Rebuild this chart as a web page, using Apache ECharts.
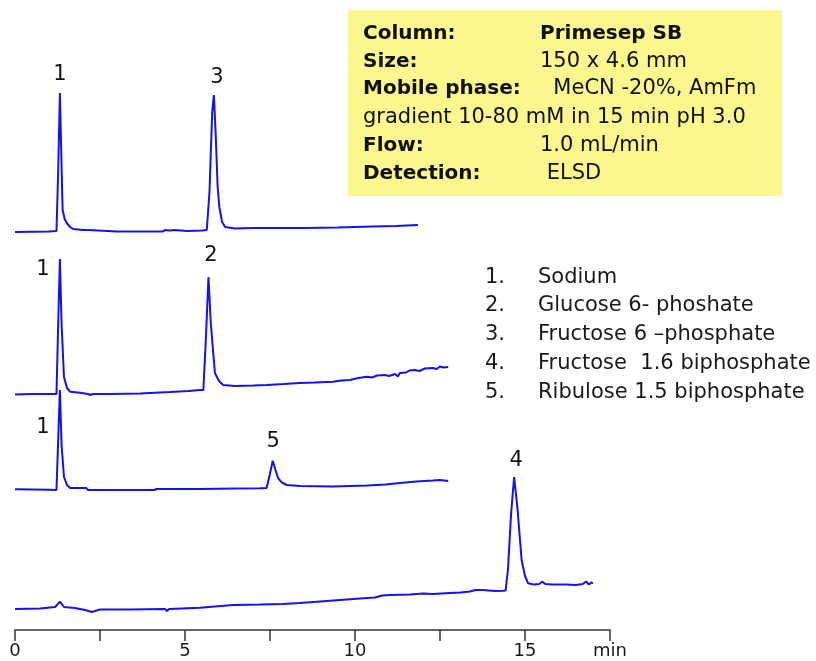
<!DOCTYPE html>
<html>
<head>
<meta charset="utf-8">
<script src="https://cdn.jsdelivr.net/npm/echarts/dist/echarts.min.js"></script>
<style>
html,body{margin:0;padding:0;background:#fff;}
#chart{width:816px;height:661px;}
</style>
</head>
<body>
<div id="chart"></div>
<script>
// ---- data (time in min, detector signal in arbitrary units above each trace's baseline) ----
const trace1 = [[0,0],[0.5,0.3],[1.0,0.5],[1.22,1],[1.27,60],[1.32,139],[1.36,80],[1.40,22],[1.46,13],[1.52,9],[1.62,5],[1.71,3],[2.0,2],[2.15,2],[2.18,0.5],[3.0,0.5],[3.65,0.5],[3.68,1.5],[3.72,0.5],[4.35,0.5],[4.41,2],[4.45,0.5],[4.55,1.5],[4.6,0.5],[4.7,2],[4.75,0.5],[5.06,1],[5.5,1.5],[5.64,2],[5.72,40],[5.80,120],[5.85,137],[5.90,100],[5.96,45],[6.01,25],[6.09,10],[6.18,5],[6.47,3.5],[7.0,4],[8.0,4],[8.35,4],[8.4,5.5],[8.45,4],[9.5,4.5],[10.5,5.5],[11.2,6],[11.85,7]];
const trace2 = [[0,-0.5],[0.5,0],[1.0,0],[1.22,0],[1.27,70],[1.32,135],[1.37,70],[1.44,17],[1.53,6],[1.62,2.3],[1.91,1.3],[2.15,0],[2.21,-1],[2.3,0],[2.79,0],[3.68,0.5],[4.56,2],[5.1,3],[5.44,4],[5.54,4],[5.62,60],[5.69,117],[5.76,70],[5.88,21],[6.0,13],[6.12,9],[6.47,8],[7.0,8.5],[7.41,9],[7.9,10],[8.38,11],[8.8,11.5],[9.35,12.3],[9.6,13.5],[9.85,14],[10.1,16],[10.35,17.3],[10.5,16.5],[10.65,18.5],[10.88,19],[11.0,18],[11.18,20],[11.26,17.5],[11.32,21],[11.5,21.5],[11.6,23.5],[11.76,24],[11.9,23],[12.05,25.5],[12.29,26],[12.4,25],[12.5,27.5],[12.6,26.5],[12.74,27]];
const trace3 = [[0,0.7],[0.5,0.5],[1.0,0.3],[1.22,0],[1.27,50],[1.32,100],[1.37,45],[1.44,13],[1.53,5],[1.62,2],[2.09,2],[2.15,0],[4.1,0],[4.13,1.5],[4.16,1],[5.44,1],[6.5,1.5],[7.21,1.7],[7.40,2],[7.49,15],[7.58,29.3],[7.66,20],[7.74,11.7],[7.85,7.5],[7.99,5],[8.38,4],[9.35,3.5],[10.35,4.5],[10.9,5.5],[11.32,7],[11.8,8.5],[12.29,9.5],[12.5,10],[12.74,9]];
const trace4 = [[0,0],[0.74,0.5],[1.18,2],[1.32,7.3],[1.44,2],[1.76,1],[2.06,-1],[2.26,-3],[2.5,-0.5],[3.38,-0.5],[4.41,0],[4.47,-2],[4.53,0],[5.44,1.3],[6.41,4],[7.21,4.5],[7.88,5],[8.38,6],[8.88,7.3],[9.56,9],[10.35,11],[10.59,11.5],[10.8,13.5],[11.03,14],[11.62,14.5],[12.0,15.5],[12.29,15],[12.79,16],[13.1,16.5],[13.38,17.5],[13.55,19],[13.76,19],[14.12,18],[14.35,18.3],[14.43,18.5],[14.50,40],[14.59,95],[14.68,132],[14.78,100],[14.90,49],[15.0,33],[15.09,25.7],[15.25,24.5],[15.42,25],[15.5,27.3],[15.6,25],[15.8,24.5],[16.2,24.5],[16.5,24],[16.7,25],[16.8,27.5],[16.88,24.5],[16.95,26.5],[17.0,25.7]];

// vertical offsets of the stacked chromatograms
const traceOffsets = [398, 236, 140, 21];

// peak labels: [time, level, text]
const peakLabels = [[1.32,555,'1'],[5.94,552,'3'],[0.82,360,'1'],[5.76,374,'2'],[0.82,202,'1'],[7.59,188,'5'],[14.74,169,'4']];

const xTicksMajor = [0,5,10,15];
const xUnitLabel = 'min';

const infoRows = [
  ['Column:', 'Primesep SB', true],
  ['Size:', '150 x 4.6 mm', false],
  ['Mobile phase:', '  MeCN -20%, AmFm', false],
  ['gradient 10-80 mM in 15 min pH 3.0', '', false],
  ['Flow:', '1.0 mL/min', false],
  ['Detection:', ' ELSD', false]
];
const compoundNames = ['Sodium','Glucose 6- phoshate','Fructose 6 \u2013phosphate','Fructose  1.6 biphosphate','Ribulose 1.5 biphosphate'];

// ---- chart ----
const chart = echarts.init(document.getElementById('chart'), null, {renderer:'canvas'});
const FONT = '"DejaVu Sans", sans-serif';
const lineColor = '#1212f2';
const traces = [trace1, trace2, trace3, trace4];

const series = traces.map((tr, i) => ({
  type: 'line',
  data: tr.map(p => [p[0], traceOffsets[i] + p[1]]),
  showSymbol: false,
  symbol: 'none',
  smooth: false,
  lineStyle: {color: lineColor, width: 2},
  silent: true,
  animation: false
}));
series.push({
  type: 'scatter',
  data: peakLabels.map(p => ({value: [p[0], p[1]], name: p[2]})),
  symbolSize: 0.1,
  itemStyle: {color: 'transparent'},
  label: {show: true, position: 'inside', formatter: p => p.name, fontFamily: FONT, fontSize: 21, color: '#111', opacity: 1},
  emphasis: {disabled: true},
  animation: false, silent: true
});

const graphics = [];
graphics.push({type:'rect', shape:{x:348, y:10, width:434, height:186}, style:{fill:'#fcf68e'}, z:0});
const rowY = [34, 62, 89, 118, 146, 174];
infoRows.forEach((r, i) => {
  const boldLeft = i !== 3;
  graphics.push({type:'text', style:{text:r[0], x:363, y:rowY[i], fontFamily:FONT, fontSize: boldLeft?20:21, fontWeight: boldLeft?'bold':'normal', fill:'#111', textVerticalAlign:'middle'}, z:2});
  if (r[1]) {
    graphics.push({type:'text', style:{text:r[1], x:540, y:rowY[i], fontFamily:FONT, fontSize: r[2]?20:21, fontWeight: r[2]?'bold':'normal', fill:'#111', textVerticalAlign:'middle'}, z:2});
  }
});
const legY = [278, 306, 335, 364, 393];
compoundNames.forEach((n, i) => {
  graphics.push({type:'text', style:{text:(i+1)+'.', x:485, y:legY[i], fontFamily:FONT, fontSize:21, fill:'#1a1a1a', textVerticalAlign:'middle'}});
  graphics.push({type:'text', style:{text:n, x:538, y:legY[i], fontFamily:FONT, fontSize:21, fill:'#1a1a1a', textVerticalAlign:'middle'}});
});

chart.setOption({
  animation: false,
  backgroundColor: '#fff',
  grid: {left: 15, width: 595, top: 30, height: 600},
  xAxis: {
    type: 'value', min: 0, max: 17.5, interval: 2.5,
    splitLine: {show: false},
    axisLine: {lineStyle: {color: '#333', width: 1.5}},
    axisTick: {length: 11, lineStyle: {color: '#333', width: 1.5}},
    axisLabel: {
      showMinLabel: true, showMaxLabel: true, margin: 12,
      fontFamily: FONT, fontSize: 18, color: '#1a1a1a',
      formatter: v => (v === 17.5 ? xUnitLabel : (xTicksMajor.indexOf(v) >= 0 ? String(v) : ''))
    }
  },
  yAxis: {type: 'value', min: 0, max: 600, show: false},
  series: series,
  graphic: graphics
});
</script>
</body>
</html>
